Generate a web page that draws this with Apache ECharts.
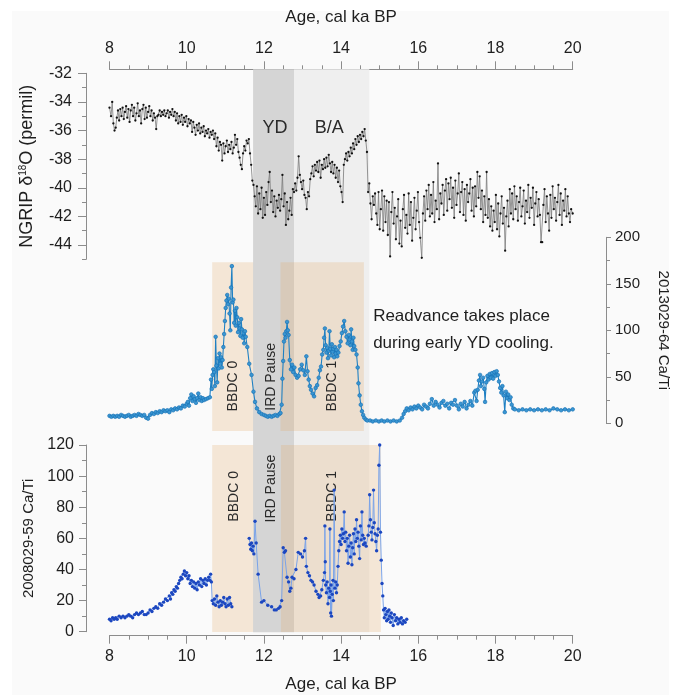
<!DOCTYPE html>
<html><head><meta charset="utf-8">
<script src="https://cdn.jsdelivr.net/npm/echarts@6/dist/echarts.min.js"></script>
<style>html,body{margin:0;padding:0;background:#fff}#c{width:686px;height:695px}</style>
</head><body><div id="c"></div><script>
// ---------- DATA ----------
const xMin = 8, xMax = 20;
const ageTicksInterval = 2;
const ngripMajorTicks = [-44, -42, -40, -38, -36, -34, -32];
const ngripMinorTicks = [-45, -43, -41, -39, -37, -35, -33];
const ngripRange = [-45, -32];
const ca64Range = [0, 200];
const ca59Range = [0, 120];

const grayBands = [[11.72, 12.78], [12.78, 14.73]];       // YD, B/A
const midTanBands = [[10.66, 11.72], [12.43, 14.59]];     // BBDC 0, BBDC 1 (2013029-64)
const botTanBands = [[10.66, 11.72], [12.44, 15.03]];     // BBDC 0, BBDC 1 (2008029-59)

const ngrip = [
[8.00,-34.4],[8.04,-35.0],[8.07,-34.0],[8.10,-35.5],[8.13,-36.0],[8.16,-35.8],[8.19,-35.1],[8.22,-34.6],[8.25,-35.3],[8.28,-34.5],
[8.31,-35.0],[8.34,-34.4],[8.37,-35.2],[8.40,-34.7],[8.43,-34.3],[8.46,-35.1],[8.49,-34.5],[8.52,-35.4],[8.55,-34.6],[8.58,-34.2],
[8.61,-35.0],[8.64,-34.4],[8.67,-35.3],[8.70,-34.8],[8.73,-34.1],[8.76,-35.0],[8.79,-34.6],[8.82,-35.5],[8.85,-34.5],[8.88,-34.2],
[8.91,-35.2],[8.94,-34.4],[8.97,-35.1],[9.00,-34.7],[9.03,-34.3],[9.06,-35.0],[9.09,-34.6],[9.12,-35.3],[9.15,-34.8],[9.18,-35.1],
[9.21,-35.9],[9.24,-35.0],[9.27,-34.9],[9.30,-34.6],[9.33,-35.0],[9.36,-34.7],[9.39,-34.9],[9.42,-34.6],[9.45,-35.0],[9.48,-34.8],
[9.51,-34.6],[9.54,-35.1],[9.57,-34.7],[9.60,-34.9],[9.63,-34.5],[9.66,-35.0],[9.69,-34.7],[9.72,-35.3],[9.75,-34.8],[9.78,-35.5],
[9.81,-35.0],[9.84,-35.4],[9.87,-34.9],[9.90,-35.6],[9.93,-35.1],[9.96,-35.4],[9.99,-35.0],[10.02,-35.7],[10.05,-35.2],[10.08,-35.5],
[10.11,-35.3],[10.14,-36.1],[10.17,-35.4],[10.20,-35.8],[10.23,-36.3],[10.26,-35.6],[10.29,-36.0],[10.32,-35.5],[10.35,-36.2],[10.38,-35.8],
[10.41,-36.1],[10.44,-35.7],[10.47,-36.4],[10.50,-36.0],[10.53,-36.2],[10.56,-35.9],[10.59,-36.5],[10.62,-36.1],[10.65,-36.3],[10.68,-36.0],
[10.71,-36.6],[10.74,-36.2],[10.77,-37.1],[10.80,-36.5],[10.83,-37.4],[10.86,-36.8],[10.89,-37.0],[10.92,-38.1],[10.95,-36.9],[10.98,-37.6],
[11.01,-37.1],[11.04,-36.7],[11.07,-37.5],[11.10,-37.0],[11.13,-37.3],[11.16,-36.8],[11.19,-37.6],[11.22,-37.2],[11.25,-36.3],[11.28,-37.0],
[11.31,-36.6],[11.34,-37.5],[11.37,-37.9],[11.40,-38.4],[11.43,-38.7],[11.46,-37.6],[11.49,-37.1],[11.52,-37.4],[11.55,-36.7],[11.58,-36.9],
[11.61,-36.6],[11.64,-37.6],[11.67,-38.4],[11.70,-39.5],[11.73,-39.8],[11.76,-40.6],[11.79,-41.3],[11.82,-39.9],[11.85,-41.8],[11.88,-40.4],
[11.91,-41.5],[11.94,-40.0],[11.97,-42.1],[12.00,-40.7],[12.03,-41.9],[12.06,-40.3],[12.09,-41.2],[12.12,-39.6],[12.15,-38.9],[12.18,-41.0],
[12.21,-40.2],[12.24,-41.7],[12.27,-40.6],[12.30,-42.0],[12.33,-40.9],[12.36,-41.4],[12.39,-40.5],[12.42,-41.6],[12.45,-40.8],[12.48,-39.1],
[12.51,-41.3],[12.54,-40.4],[12.57,-42.6],[12.60,-41.0],[12.63,-42.2],[12.66,-41.6],[12.69,-40.7],[12.72,-41.9],[12.75,-40.1],[12.78,-40.3],
[12.81,-39.7],[12.84,-40.2],[12.87,-39.3],[12.90,-37.8],[12.93,-39.1],[12.96,-39.6],[12.99,-40.1],[13.02,-39.5],[13.05,-40.5],[13.08,-40.7],
[13.11,-41.5],[13.14,-40.3],[13.17,-40.6],[13.20,-39.4],[13.23,-39.0],[13.26,-38.5],[13.29,-39.2],[13.32,-38.4],[13.35,-38.8],[13.38,-38.2],
[13.41,-38.9],[13.44,-38.1],[13.47,-39.3],[13.50,-38.4],[13.53,-38.7],[13.56,-38.0],[13.59,-38.6],[13.62,-37.9],[13.65,-38.5],[13.68,-37.7],
[13.71,-38.3],[13.74,-38.9],[13.77,-38.2],[13.80,-39.0],[13.83,-38.4],[13.86,-39.3],[13.89,-38.6],[13.92,-39.6],[13.95,-38.8],[13.98,-39.9],
[14.01,-40.3],[14.04,-41.0],[14.07,-38.4],[14.10,-38.0],[14.13,-37.6],[14.16,-38.1],[14.19,-37.5],[14.22,-37.8],[14.25,-37.2],[14.28,-37.6],
[14.31,-36.9],[14.34,-37.3],[14.37,-36.6],[14.40,-37.0],[14.43,-36.4],[14.46,-36.8],[14.49,-36.3],[14.52,-36.6],[14.55,-36.1],[14.58,-36.4],
[14.61,-35.9],[14.64,-36.7],[14.67,-37.5],[14.70,-40.3],[14.73,-39.7],[14.76,-41.1],[14.79,-42.2],[14.82,-40.6],[14.85,-41.2],[14.88,-40.4],
[14.91,-41.8],[14.94,-42.6],[14.97,-40.3],[15.00,-42.9],[15.03,-41.5],[15.06,-40.2],[15.09,-43.0],[15.12,-40.6],[15.15,-42.4],[15.18,-40.9],
[15.21,-43.3],[15.24,-41.0],[15.27,-44.8],[15.30,-41.7],[15.33,-40.3],[15.36,-42.5],[15.39,-41.4],[15.42,-43.6],[15.45,-42.0],[15.48,-40.8],
[15.51,-43.9],[15.54,-42.3],[15.57,-44.1],[15.60,-41.5],[15.63,-40.5],[15.66,-42.8],[15.69,-41.9],[15.72,-43.2],[15.75,-40.4],[15.78,-42.6],
[15.81,-41.0],[15.84,-43.7],[15.87,-42.1],[15.90,-40.7],[15.93,-42.9],[15.96,-41.6],[15.99,-40.3],[16.02,-42.4],[16.05,-43.5],[16.09,-44.9],
[16.12,-41.8],[16.15,-40.6],[16.18,-42.3],[16.21,-40.2],[16.24,-41.5],[16.27,-39.8],[16.30,-42.0],[16.33,-40.5],[16.36,-41.8],[16.39,-39.6],
[16.42,-42.4],[16.45,-40.9],[16.48,-41.5],[16.51,-38.3],[16.54,-42.2],[16.57,-40.4],[16.60,-41.1],[16.63,-39.8],[16.66,-41.9],[16.69,-40.2],
[16.72,-39.4],[16.75,-41.6],[16.78,-39.7],[16.81,-40.8],[16.84,-39.3],[16.87,-41.4],[16.90,-40.0],[16.93,-42.1],[16.96,-39.5],[16.99,-41.2],
[17.02,-40.4],[17.05,-39.0],[17.08,-41.7],[17.11,-40.3],[17.14,-39.6],[17.17,-41.9],[17.20,-40.1],[17.23,-42.3],[17.26,-39.8],[17.29,-41.0],
[17.32,-40.4],[17.35,-39.4],[17.38,-41.6],[17.41,-40.0],[17.44,-42.0],[17.47,-39.9],[17.50,-41.3],[17.53,-38.9],[17.56,-40.7],[17.59,-39.2],
[17.62,-41.5],[17.65,-40.2],[17.68,-42.4],[17.71,-40.6],[17.74,-41.9],[17.77,-38.9],[17.80,-42.1],[17.83,-40.8],[17.86,-42.7],[17.89,-41.3],
[17.92,-43.0],[17.95,-41.6],[17.98,-42.4],[18.01,-40.5],[18.04,-42.9],[18.07,-41.1],[18.10,-43.4],[18.13,-41.8],[18.16,-40.6],[18.19,-42.5],
[18.22,-41.4],[18.25,-44.4],[18.28,-42.0],[18.31,-40.9],[18.34,-42.7],[18.37,-40.1],[18.40,-41.8],[18.43,-40.4],[18.46,-42.2],[18.49,-39.9],
[18.52,-41.5],[18.55,-40.6],[18.58,-42.3],[18.61,-41.0],[18.64,-40.0],[18.67,-42.0],[18.70,-41.3],[18.73,-40.2],[18.76,-42.5],[18.79,-40.9],
[18.82,-41.7],[18.85,-39.8],[18.88,-42.1],[18.91,-40.7],[18.94,-41.4],[18.97,-40.0],[19.00,-42.6],[19.03,-41.1],[19.06,-40.3],[19.09,-42.0],
[19.12,-40.8],[19.15,-41.9],[19.18,-43.8],[19.21,-43.8],[19.24,-41.2],[19.27,-40.1],[19.30,-42.4],[19.33,-40.6],[19.36,-41.8],[19.39,-43.0],
[19.42,-40.5],[19.45,-42.1],[19.48,-39.9],[19.51,-41.5],[19.54,-40.7],[19.57,-42.3],[19.60,-41.0],[19.63,-39.8],[19.66,-41.9],[19.69,-40.4],
[19.72,-42.6],[19.75,-40.9],[19.78,-41.6],[19.81,-40.1],[19.84,-42.0],[19.87,-40.6],[19.90,-41.8],[19.93,-42.4],[19.96,-41.5],[20.00,-41.8]
];

const ca64 = [
[8.00,8],[8.05,7],[8.10,8],[8.15,7],[8.20,8],[8.25,7],[8.30,9],[8.35,8],[8.40,7],[8.45,8],[8.50,9],[8.55,7],[8.60,8],[8.65,9],[8.70,8],
[8.75,10],[8.80,9],[8.85,8],[8.90,9],[8.95,6],[9.00,5],[9.05,9],[9.10,11],[9.15,10],[9.20,12],[9.25,11],[9.30,13],[9.35,12],[9.40,14],
[9.45,13],[9.50,14],[9.55,12],[9.60,15],[9.65,14],[9.70,16],[9.75,15],[9.80,17],[9.85,16],[9.90,19],[9.95,18],[10.00,21],[10.03,23],
[10.06,19],[10.09,27],[10.12,31],[10.15,24],[10.18,29],[10.21,26],[10.24,22],[10.27,27],[10.30,32],[10.33,25],[10.36,28],[10.39,24],
[10.42,27],[10.45,25],[10.50,26],[10.55,27],[10.60,28],[10.63,47],[10.65,37],[10.67,52],[10.69,58],[10.71,55],[10.73,40],[10.75,93],
[10.77,62],[10.79,44],[10.81,70],[10.83,59],[10.85,75],[10.87,64],[10.89,71],[10.91,60],[10.93,68],[10.95,82],[10.97,96],[10.99,110],
[11.01,124],[11.03,132],[11.05,138],[11.07,128],[11.09,134],[11.11,118],[11.13,100],[11.15,146],[11.17,169],[11.19,130],[11.21,133],
[11.23,108],[11.25,121],[11.27,105],[11.29,124],[11.31,114],[11.33,98],[11.35,108],[11.37,102],[11.39,94],[11.41,112],[11.43,101],
[11.45,92],[11.47,97],[11.49,86],[11.51,99],[11.53,93],[11.57,82],[11.62,64],[11.68,52],[11.73,34],[11.77,23],[11.82,16],[11.88,12],
[11.94,10],[12.00,9],[12.05,8],[12.10,7],[12.15,8],[12.20,7],[12.25,8],[12.30,9],[12.35,8],[12.40,10],[12.43,11],[12.46,20],[12.48,48],
[12.50,67],[12.52,88],[12.54,96],[12.56,92],[12.58,99],[12.60,109],[12.62,100],[12.64,95],[12.67,68],[12.70,58],[12.73,63],[12.76,55],
[12.79,60],[12.82,52],[12.86,49],[12.90,51],[12.94,58],[12.98,63],[13.02,57],[13.06,52],[13.10,72],[13.13,56],[13.16,47],[13.19,40],
[13.22,36],[13.26,32],[13.30,29],[13.34,38],[13.38,41],[13.42,49],[13.45,57],[13.48,61],[13.51,74],[13.54,79],[13.56,92],[13.58,102],
[13.60,84],[13.62,76],[13.64,81],[13.66,70],[13.68,78],[13.70,99],[13.72,80],[13.74,73],[13.76,85],[13.78,77],[13.80,80],[13.82,71],
[13.84,82],[13.86,75],[13.88,79],[13.90,72],[13.93,76],[13.96,83],[13.99,88],[14.02,97],[14.05,104],[14.08,110],[14.11,99],[14.14,93],
[14.17,86],[14.20,95],[14.22,90],[14.24,84],[14.26,101],[14.28,88],[14.30,79],[14.32,92],[14.34,83],[14.37,79],[14.40,74],[14.43,60],
[14.45,43],[14.48,30],[14.51,20],[14.54,13],[14.57,9],[14.60,6],[14.64,4],[14.68,3],[14.75,3],[14.82,2],[14.90,3],[14.98,2],[15.05,3],
[15.12,2],[15.20,3],[15.28,2],[15.36,3],[15.44,2],[15.52,3],[15.58,6],[15.62,10],[15.66,13],[15.70,16],[15.75,14],[15.80,17],[15.85,15],
[15.90,18],[15.95,16],[16.00,19],[16.05,17],[16.10,15],[16.15,20],[16.20,18],[16.25,16],[16.30,21],[16.35,26],[16.40,19],[16.45,23],
[16.50,20],[16.55,17],[16.60,22],[16.65,24],[16.70,19],[16.75,21],[16.80,16],[16.85,22],[16.90,20],[16.95,25],[17.00,19],[17.05,15],
[17.10,21],[17.15,18],[17.20,23],[17.25,16],[17.30,20],[17.35,24],[17.40,19],[17.45,33],[17.48,35],[17.51,24],[17.54,36],[17.57,46],
[17.60,52],[17.62,40],[17.65,45],[17.68,49],[17.71,37],[17.73,23],[17.76,44],[17.79,51],[17.82,47],[17.85,53],[17.88,49],[17.91,54],
[17.94,48],[17.97,55],[18.00,51],[18.03,56],[18.06,52],[18.09,45],[18.12,38],[18.15,33],[18.18,40],[18.21,30],[18.24,12],[18.27,34],
[18.30,27],[18.33,31],[18.36,25],[18.39,28],[18.42,20],[18.46,16],[18.50,15],[18.60,14],[18.70,15],[18.80,14],[18.90,15],[19.00,14],
[19.10,15],[19.20,14],[19.30,15],[19.40,14],[19.50,16],[19.60,15],[19.70,14],[19.80,15],[19.90,14],[20.00,15]
];

const ca59 = [
[8.00,8],[8.04,7],[8.08,9],[8.12,8],[8.16,9],[8.20,8],[8.25,10],[8.30,9],[8.35,10],[8.40,9],[8.45,10],[8.50,11],[8.55,10],[8.60,9],
[8.65,11],[8.70,12],[8.75,11],[8.80,12],[8.85,13],[8.90,11],[8.95,11],[9.00,12],[9.05,14],[9.10,13],[9.15,15],[9.20,16],[9.25,15],
[9.30,18],[9.35,17],[9.40,19],[9.45,21],[9.50,20],[9.55,23],[9.58,21],[9.61,25],[9.64,24],[9.67,27],[9.70,26],[9.73,29],[9.76,28],
[9.79,31],[9.82,33],[9.85,35],[9.88,34],[9.91,37],[9.94,39],[9.97,36],[10.00,38],[10.03,34],[10.06,36],[10.09,31],[10.12,33],[10.15,29],
[10.18,32],[10.21,28],[10.24,31],[10.27,27],[10.30,32],[10.33,30],[10.36,34],[10.39,29],[10.42,33],[10.45,31],[10.48,34],[10.51,30],
[10.54,33],[10.57,35],[10.60,33],[10.62,37],[10.64,32],[10.66,20],[10.69,18],[10.72,21],[10.75,17],[10.78,23],[10.81,19],[10.84,16],
[10.87,20],[10.90,17],[10.93,19],[10.96,22],[10.99,18],[11.02,16],[11.05,21],[11.08,17],[11.11,22],[11.14,18],[11.17,16],
[11.40,null],
[11.62,60],[11.64,56],[11.66,53],[11.68,57],[11.70,52],[11.72,55],[11.74,50],[11.77,71],[11.80,57],[11.85,37],[11.94,19],[12.00,20],
[12.10,17],[12.20,16],[12.27,14],[12.32,14],[12.38,15],[12.42,16],[12.46,20],[12.50,54],[12.53,51],[12.56,52],[12.60,35],[12.64,32],
[12.67,26],[12.70,28],[12.73,35],[12.78,34],[12.83,40],[12.89,51],[12.95,50],[13.00,48],[13.05,52],[13.08,60],[13.10,42],[13.14,38],
[13.18,36],[13.22,33],[13.26,32],[13.30,30],[13.35,26],[13.40,24],[13.43,22],[13.47,23],[13.50,27],[13.54,33],[13.57,38],[13.58,68],
[13.59,45],[13.60,30],[13.62,25],[13.64,32],[13.66,18],[13.68,28],[13.70,22],[13.71,66],[13.72,26],[13.73,12],[13.74,30],[13.75,10],
[13.77,24],[13.79,33],[13.80,20],[13.82,91],[13.84,28],[13.86,32],[13.88,25],[13.90,30],[13.92,42],[13.94,52],[13.96,58],[13.98,62],
[14.00,56],[14.02,66],[14.04,60],[14.06,63],[14.08,77],[14.10,58],[14.12,64],[14.14,52],[14.16,60],[14.18,44],[14.20,55],[14.22,62],
[14.24,48],[14.26,57],[14.28,43],[14.30,54],[14.32,63],[14.34,50],[14.36,66],[14.38,58],[14.40,72],[14.42,60],[14.44,64],[14.46,55],
[14.48,47],[14.50,68],[14.52,59],[14.54,77],[14.56,62],[14.58,56],[14.60,60],[14.62,57],[14.65,55],[14.70,62],[14.72,68],[14.74,88],
[14.76,72],[14.78,64],[14.80,59],[14.82,67],[14.84,91],[14.86,70],[14.88,63],[14.90,58],[14.92,52],[14.94,62],[14.96,66],[14.98,107],
[15.00,120],[15.02,64],[15.04,46],[15.06,31],[15.08,23],[15.10,14],[15.12,9],[15.14,15],[15.16,11],[15.18,7],[15.20,13],[15.22,8],
[15.24,14],[15.26,10],[15.28,6],[15.30,12],[15.32,9],[15.35,4],[15.38,11],[15.41,7],[15.44,9],[15.47,5],[15.50,8],[15.53,6],[15.56,9],
[15.59,5],[15.62,7],[15.66,6],[15.70,8]
];

// annotation anchors (data coordinates)
const topLabels = [['YD', 12.29, -35.8], ['B/A', 13.69, -35.8]];
const midLabels = [['BBDC 0', 11.2, 40], ['IRD Pause', 12.18, 50], ['BBDC 1', 13.76, 40]];
const botLabels = [['BBDC 0', 11.23, 87], ['IRD Pause', 12.18, 92], ['BBDC 1', 13.76, 87]];
const noteText = ['Readvance takes place', 'during early YD cooling.'];
const noteAnchor = [14.83, 101];

// ---------- CHART ----------
const FONT = "'Liberation Sans', Arial, Helvetica, sans-serif";
const AX = '#8c8c8c';
const TXT = '#1e1e1e';
const GL = 109.5, GR = 113.3;

const chart = echarts.init(document.getElementById('c'), null, {renderer: 'canvas'});

function xAx(gi, show, pos, gap) {
  return {
    type: 'value', gridIndex: gi, min: xMin, max: xMax, interval: ageTicksInterval,
    show: show, position: pos || 'bottom', offset: 4,
    name: show ? 'Age, cal ka BP' : '', nameLocation: 'middle', nameGap: gap || 40,
    nameTextStyle: {fontFamily: FONT, fontSize: 17, color: TXT},
    axisLine: {show: true, onZero: false, lineStyle: {color: AX}},
    axisTick: {show: true, length: 8, lineStyle: {color: AX}},
    minorTick: {show: true, splitNumber: 4, length: 4, lineStyle: {color: AX}},
    axisLabel: {fontFamily: FONT, fontSize: 16, color: TXT, margin: 13},
    splitLine: {show: false}, minorSplitLine: {show: false}
  };
}
function hiddenY(gi) {
  return {type: 'value', gridIndex: gi, min: 0, max: 1, show: false, splitLine: {show: false}};
}
function bandPairs(bands, colors) {
  return bands.map((b, i) => [{xAxis: b[0], itemStyle: {color: colors[i]}}, {xAxis: b[1]}]);
}
function labelPoints(list, rotate, size) {
  return list.map(l => ({coord: [l[1], l[2]], label: {formatter: l[0], rotate: rotate, fontSize: size}}));
}
const mpBase = {symbol: 'circle', symbolSize: 0, silent: true,
  label: {show: true, position: 'inside', fontFamily: FONT, color: '#2a2a2a'}, animation: false};

const option = {
  animation: false,
  backgroundColor: '#ffffff',
  graphic: [{type: 'rect', z: -100, shape: {x: 12, y: 11, width: 657, height: 690}, style: {fill: '#fafafa'}, silent: true}],
  grid: [
    {left: GL, right: GR, top: 73.3, height: 186},
    {left: GL, right: GR, top: 237.3, height: 186},
    {left: GL, right: GR, top: 445, height: 186.7},
    {left: GL, right: GR, top: 69.3, height: 563},
    {left: GL, right: GR, top: 262.3, height: 168.7},
    {left: GL, right: GR, top: 445, height: 187}
  ],
  xAxis: [
    xAx(0, true, 'top', 43),
    xAx(1, false),
    xAx(2, true, 'bottom', 40),
    xAx(3, false), xAx(4, false), xAx(5, false)
  ],
  yAxis: [
    {type: 'value', gridIndex: 0, min: ngripRange[0], max: ngripRange[1], position: 'left', offset: 23.5,
     name: 'NGRIP δ{sup|18}O (permil)', nameLocation: 'middle', nameGap: 49, nameRotate: 90,
     nameTextStyle: {fontFamily: FONT, fontSize: 18, color: TXT,
       rich: {sup: {fontFamily: FONT, fontSize: 10, color: TXT, padding: [0, 0, 9, 0]}}},
     axisLine: {show: true, lineStyle: {color: AX}},
     axisTick: {show: true, length: 8, customValues: ngripMajorTicks, lineStyle: {color: AX}},
     axisLabel: {customValues: ngripMajorTicks, fontFamily: FONT, fontSize: 16, color: TXT, margin: 14},
     splitLine: {show: false}},
    {type: 'value', gridIndex: 0, min: ngripRange[0], max: ngripRange[1], position: 'left', offset: 23.5,
     axisLine: {show: false},
     axisTick: {show: true, length: 4, customValues: ngripMinorTicks, lineStyle: {color: AX}},
     axisLabel: {show: false}, splitLine: {show: false}},
    {type: 'value', gridIndex: 1, min: ca64Range[0], max: ca64Range[1], interval: 50, position: 'right', offset: 33.3,
     name: '2013029-64 Ca/Ti', nameLocation: 'middle', nameGap: 50, nameRotate: -90,
     nameTextStyle: {fontFamily: FONT, fontSize: 15, color: TXT},
     axisLine: {show: true, lineStyle: {color: AX}},
     axisTick: {show: true, length: 5, lineStyle: {color: AX}},
     minorTick: {show: true, splitNumber: 2, length: 4, lineStyle: {color: AX}},
     axisLabel: {fontFamily: FONT, fontSize: 15, color: TXT, margin: 9},
     splitLine: {show: false}, minorSplitLine: {show: false}},
    {type: 'value', gridIndex: 2, min: ca59Range[0], max: ca59Range[1], interval: 20, position: 'left', offset: 23.5,
     name: '2008029-59 Ca/Ti', nameLocation: 'middle', nameGap: 48, nameRotate: 90,
     nameTextStyle: {fontFamily: FONT, fontSize: 15, color: TXT},
     axisLine: {show: true, lineStyle: {color: AX}},
     axisTick: {show: true, length: 7, lineStyle: {color: AX}},
     minorTick: {show: true, splitNumber: 2, length: 4, lineStyle: {color: AX}},
     axisLabel: {fontFamily: FONT, fontSize: 16, color: TXT, margin: 12},
     splitLine: {show: false}, minorSplitLine: {show: false}},
    hiddenY(3), hiddenY(4), hiddenY(5)
  ],
  series: [
    {type: 'line', xAxisIndex: 3, yAxisIndex: 4, data: [], z: 1, silent: true,
     markArea: {silent: true, data: bandPairs(grayBands, ['#d5d5d5', '#efefef'])}},
    {type: 'line', xAxisIndex: 4, yAxisIndex: 5, data: [], z: 2, silent: true,
     markArea: {silent: true, data: bandPairs(midTanBands, ['rgba(226,170,106,0.25)', 'rgba(226,170,106,0.25)'])}},
    {type: 'line', xAxisIndex: 5, yAxisIndex: 6, data: [], z: 2, silent: true,
     markArea: {silent: true, data: bandPairs(botTanBands, ['rgba(226,170,106,0.25)', 'rgba(226,170,106,0.25)'])}},
    {name: 'NGRIP', type: 'line', xAxisIndex: 0, yAxisIndex: 0, data: ngrip, z: 5,
     symbol: 'circle', symbolSize: 2.3, showSymbol: true,
     lineStyle: {color: '#7a7a7a', width: 0.8}, itemStyle: {color: '#111'},
     emphasis: {disabled: true},
     markPoint: Object.assign({}, mpBase, {data: labelPoints(topLabels, 0, 18)})},
    {name: '2013029-64', type: 'line', xAxisIndex: 1, yAxisIndex: 2, data: ca64, z: 5,
     symbol: 'circle', symbolSize: 3.6, showSymbol: true,
     lineStyle: {color: '#1f80c3', width: 1.1}, itemStyle: {color: '#3a96d2', borderColor: '#1a74b8', borderWidth: 0.7},
     emphasis: {disabled: true},
     markPoint: Object.assign({}, mpBase, {data: labelPoints(midLabels, 90, 14).concat([
       {coord: noteAnchor, label: {formatter: noteText.join('\n'), position: 'right', distance: 0, align: 'left',
        fontSize: 17, lineHeight: 27, color: '#1e1e1e'}}])})},
    {name: '2008029-59', type: 'line', xAxisIndex: 2, yAxisIndex: 3, data: ca59, z: 5,
     symbol: 'circle', symbolSize: 3.4, showSymbol: true, connectNulls: false,
     lineStyle: {color: '#7aa3e8', width: 1}, itemStyle: {color: '#1c47c0'},
     emphasis: {disabled: true},
     markPoint: Object.assign({}, mpBase, {data: labelPoints(botLabels, 90, 14)})}
  ]
};
chart.setOption(option);
</script></body></html>
